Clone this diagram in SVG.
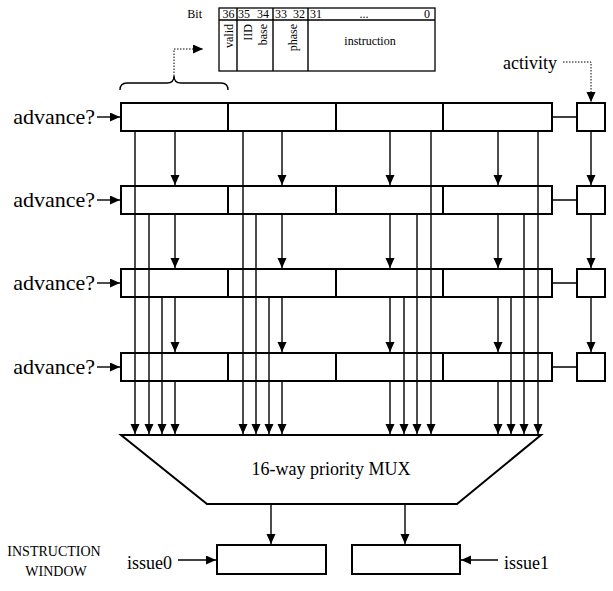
<svg xmlns="http://www.w3.org/2000/svg" width="613" height="591" viewBox="0 0 613 591">
<style>
.box{fill:#fff;stroke:#000;stroke-width:2}
.thin{fill:#fff;stroke:#000;stroke-width:1.3}
.ln{fill:none;stroke:#000;stroke-width:1.4}
.dot{fill:none;stroke:#000;stroke-width:1;stroke-dasharray:1.5 1.5}
text{font-family:"Liberation Serif","Times New Roman",serif;fill:#000}
.lab{font-size:22px}
.mid{font-size:18px}
.sm{font-size:12px}
.cap{font-size:14px}
</style>
<defs>
<marker id="ah" markerUnits="userSpaceOnUse" markerWidth="12" markerHeight="12" refX="10" refY="4.5" orient="auto">
<path d="M0,0 L10,4.5 L0,9 z" fill="#000"/>
</marker>
</defs>
<rect width="613" height="591" fill="#fff"/>

<g id="bitfield">
<text class="sm" x="202" y="18" text-anchor="end">Bit</text>
<rect class="thin" x="219" y="8" width="216" height="63"/>
<path class="ln" d="M219,20 H435 M237,8 V71 M273,8 V71 M308,8 V71"/>
<text class="sm" x="228.5" y="18" text-anchor="middle">36</text>
<text class="sm" x="244" y="18" text-anchor="middle">35</text>
<text class="sm" x="263" y="18" text-anchor="middle">34</text>
<text class="sm" x="281" y="18" text-anchor="middle">33</text>
<text class="sm" x="299" y="18" text-anchor="middle">32</text>
<text class="sm" x="316" y="18" text-anchor="middle">31</text>
<text class="sm" x="364" y="18" text-anchor="middle">...</text>
<text class="sm" x="427" y="18" text-anchor="middle">0</text>
<text class="sm" transform="translate(233,24) rotate(-90)" text-anchor="end">valid</text>
<text class="sm" transform="translate(252,24) rotate(-90)" text-anchor="end">IID</text>
<text class="sm" transform="translate(267,24) rotate(-90)" text-anchor="end">base</text>
<text class="sm" transform="translate(297,24) rotate(-90)" text-anchor="end">phase</text>
<text class="sm" x="370" y="45" text-anchor="middle">instruction</text>
</g>

<g id="brace">
<path class="ln" d="M120,90 Q120,83 127,83 L167,83 Q174,83 174,76 Q174,83 181,83 L221,83 Q228,83 228,90"/>
</g>

<g id="row1">
<rect class="box" x="121" y="103" width="107" height="28"/>
<rect class="box" x="228" y="103" width="108" height="28"/>
<rect class="box" x="336" y="103" width="107" height="28"/>
<rect class="box" x="443" y="103" width="109" height="28"/>
</g>
<g id="row2">
<rect class="box" x="121" y="186" width="107" height="28"/>
<rect class="box" x="228" y="186" width="108" height="28"/>
<rect class="box" x="336" y="186" width="107" height="28"/>
<rect class="box" x="443" y="186" width="109" height="28"/>
</g>
<g id="row3">
<rect class="box" x="121" y="269" width="107" height="28"/>
<rect class="box" x="228" y="269" width="108" height="28"/>
<rect class="box" x="336" y="269" width="107" height="28"/>
<rect class="box" x="443" y="269" width="109" height="28"/>
</g>
<g id="row4">
<rect class="box" x="121" y="353" width="107" height="28"/>
<rect class="box" x="228" y="353" width="108" height="28"/>
<rect class="box" x="336" y="353" width="107" height="28"/>
<rect class="box" x="443" y="353" width="109" height="28"/>
</g>
<g id="act1"><rect class="box" x="577" y="103" width="28" height="28"/></g>
<g id="act2"><rect class="box" x="577" y="186" width="28" height="28"/></g>
<g id="act3"><rect class="box" x="577" y="269" width="28" height="28"/></g>
<g id="act4"><rect class="box" x="577" y="353" width="28" height="28"/></g>

<g id="mux">
<polygon class="box" points="121,435 541,435 457,504 207,504"/>
<text class="mid" x="331" y="475" text-anchor="middle">16-way priority MUX</text>
</g>

<g id="issue0box"><rect class="box" x="217" y="545" width="109" height="29"/></g>
<g id="issue1box"><rect class="box" x="352" y="545" width="108" height="29"/></g>

<g id="labels">
<text class="lab" x="95" y="124" text-anchor="end">advance?</text>
<text class="lab" x="95" y="207" text-anchor="end">advance?</text>
<text class="lab" x="95" y="290" text-anchor="end">advance?</text>
<text class="lab" x="95" y="374" text-anchor="end">advance?</text>
<text class="mid" x="557" y="69" text-anchor="end">activity</text>
<text class="cap" x="54" y="556" text-anchor="middle">INSTRUCTION</text>
<text class="cap" x="56" y="576" text-anchor="middle">WINDOW</text>
<text class="mid" x="172" y="569" text-anchor="end">issue0</text>
<text class="mid" x="504" y="569">issue1</text>
</g>

<g id="connectors">
<path class="dot" d="M174,76 V49 H203" marker-end="url(#ah)"/>
<path class="dot" d="M563,62 H591 V102" marker-end="url(#ah)"/>
<path class="ln" d="M97,117 H120" marker-end="url(#ah)"/>
<path class="ln" d="M97,200 H120" marker-end="url(#ah)"/>
<path class="ln" d="M97,283 H120" marker-end="url(#ah)"/>
<path class="ln" d="M97,367 H120" marker-end="url(#ah)"/>
<path class="ln" d="M552,117 H577 M552,200 H577 M552,283 H577 M552,367 H577"/>
<path class="ln" d="M591,131 V185" marker-end="url(#ah)"/>
<path class="ln" d="M591,214 V268" marker-end="url(#ah)"/>
<path class="ln" d="M591,297 V352" marker-end="url(#ah)"/>
<!-- column 1 -->
<path class="ln" d="M175,131 V185" marker-end="url(#ah)"/>
<path class="ln" d="M175,214 V268" marker-end="url(#ah)"/>
<path class="ln" d="M175,297 V352" marker-end="url(#ah)"/>
<path class="ln" d="M175,381 V434" marker-end="url(#ah)"/>
<path class="ln" d="M135,131 V434" marker-end="url(#ah)"/>
<path class="ln" d="M149,214 V434" marker-end="url(#ah)"/>
<path class="ln" d="M162,297 V434" marker-end="url(#ah)"/>
<!-- column 2 -->
<path class="ln" d="M282,131 V185" marker-end="url(#ah)"/>
<path class="ln" d="M282,214 V268" marker-end="url(#ah)"/>
<path class="ln" d="M282,297 V352" marker-end="url(#ah)"/>
<path class="ln" d="M282,381 V434" marker-end="url(#ah)"/>
<path class="ln" d="M243,131 V434" marker-end="url(#ah)"/>
<path class="ln" d="M256,214 V434" marker-end="url(#ah)"/>
<path class="ln" d="M269,297 V434" marker-end="url(#ah)"/>
<!-- column 3 -->
<path class="ln" d="M390,131 V185" marker-end="url(#ah)"/>
<path class="ln" d="M390,214 V268" marker-end="url(#ah)"/>
<path class="ln" d="M390,297 V352" marker-end="url(#ah)"/>
<path class="ln" d="M390,381 V434" marker-end="url(#ah)"/>
<path class="ln" d="M431,131 V434" marker-end="url(#ah)"/>
<path class="ln" d="M417,214 V434" marker-end="url(#ah)"/>
<path class="ln" d="M404,297 V434" marker-end="url(#ah)"/>
<!-- column 4 -->
<path class="ln" d="M498,131 V185" marker-end="url(#ah)"/>
<path class="ln" d="M498,214 V268" marker-end="url(#ah)"/>
<path class="ln" d="M498,297 V352" marker-end="url(#ah)"/>
<path class="ln" d="M498,381 V434" marker-end="url(#ah)"/>
<path class="ln" d="M538,131 V434" marker-end="url(#ah)"/>
<path class="ln" d="M524,214 V434" marker-end="url(#ah)"/>
<path class="ln" d="M511,297 V434" marker-end="url(#ah)"/>
<!-- outputs -->
<path class="ln" d="M271,505 V544" marker-end="url(#ah)"/>
<path class="ln" d="M405,505 V544" marker-end="url(#ah)"/>
<path class="ln" d="M178,560 H216" marker-end="url(#ah)"/>
<path class="ln" d="M498,560 H461" marker-end="url(#ah)"/>
</g>
</svg>
